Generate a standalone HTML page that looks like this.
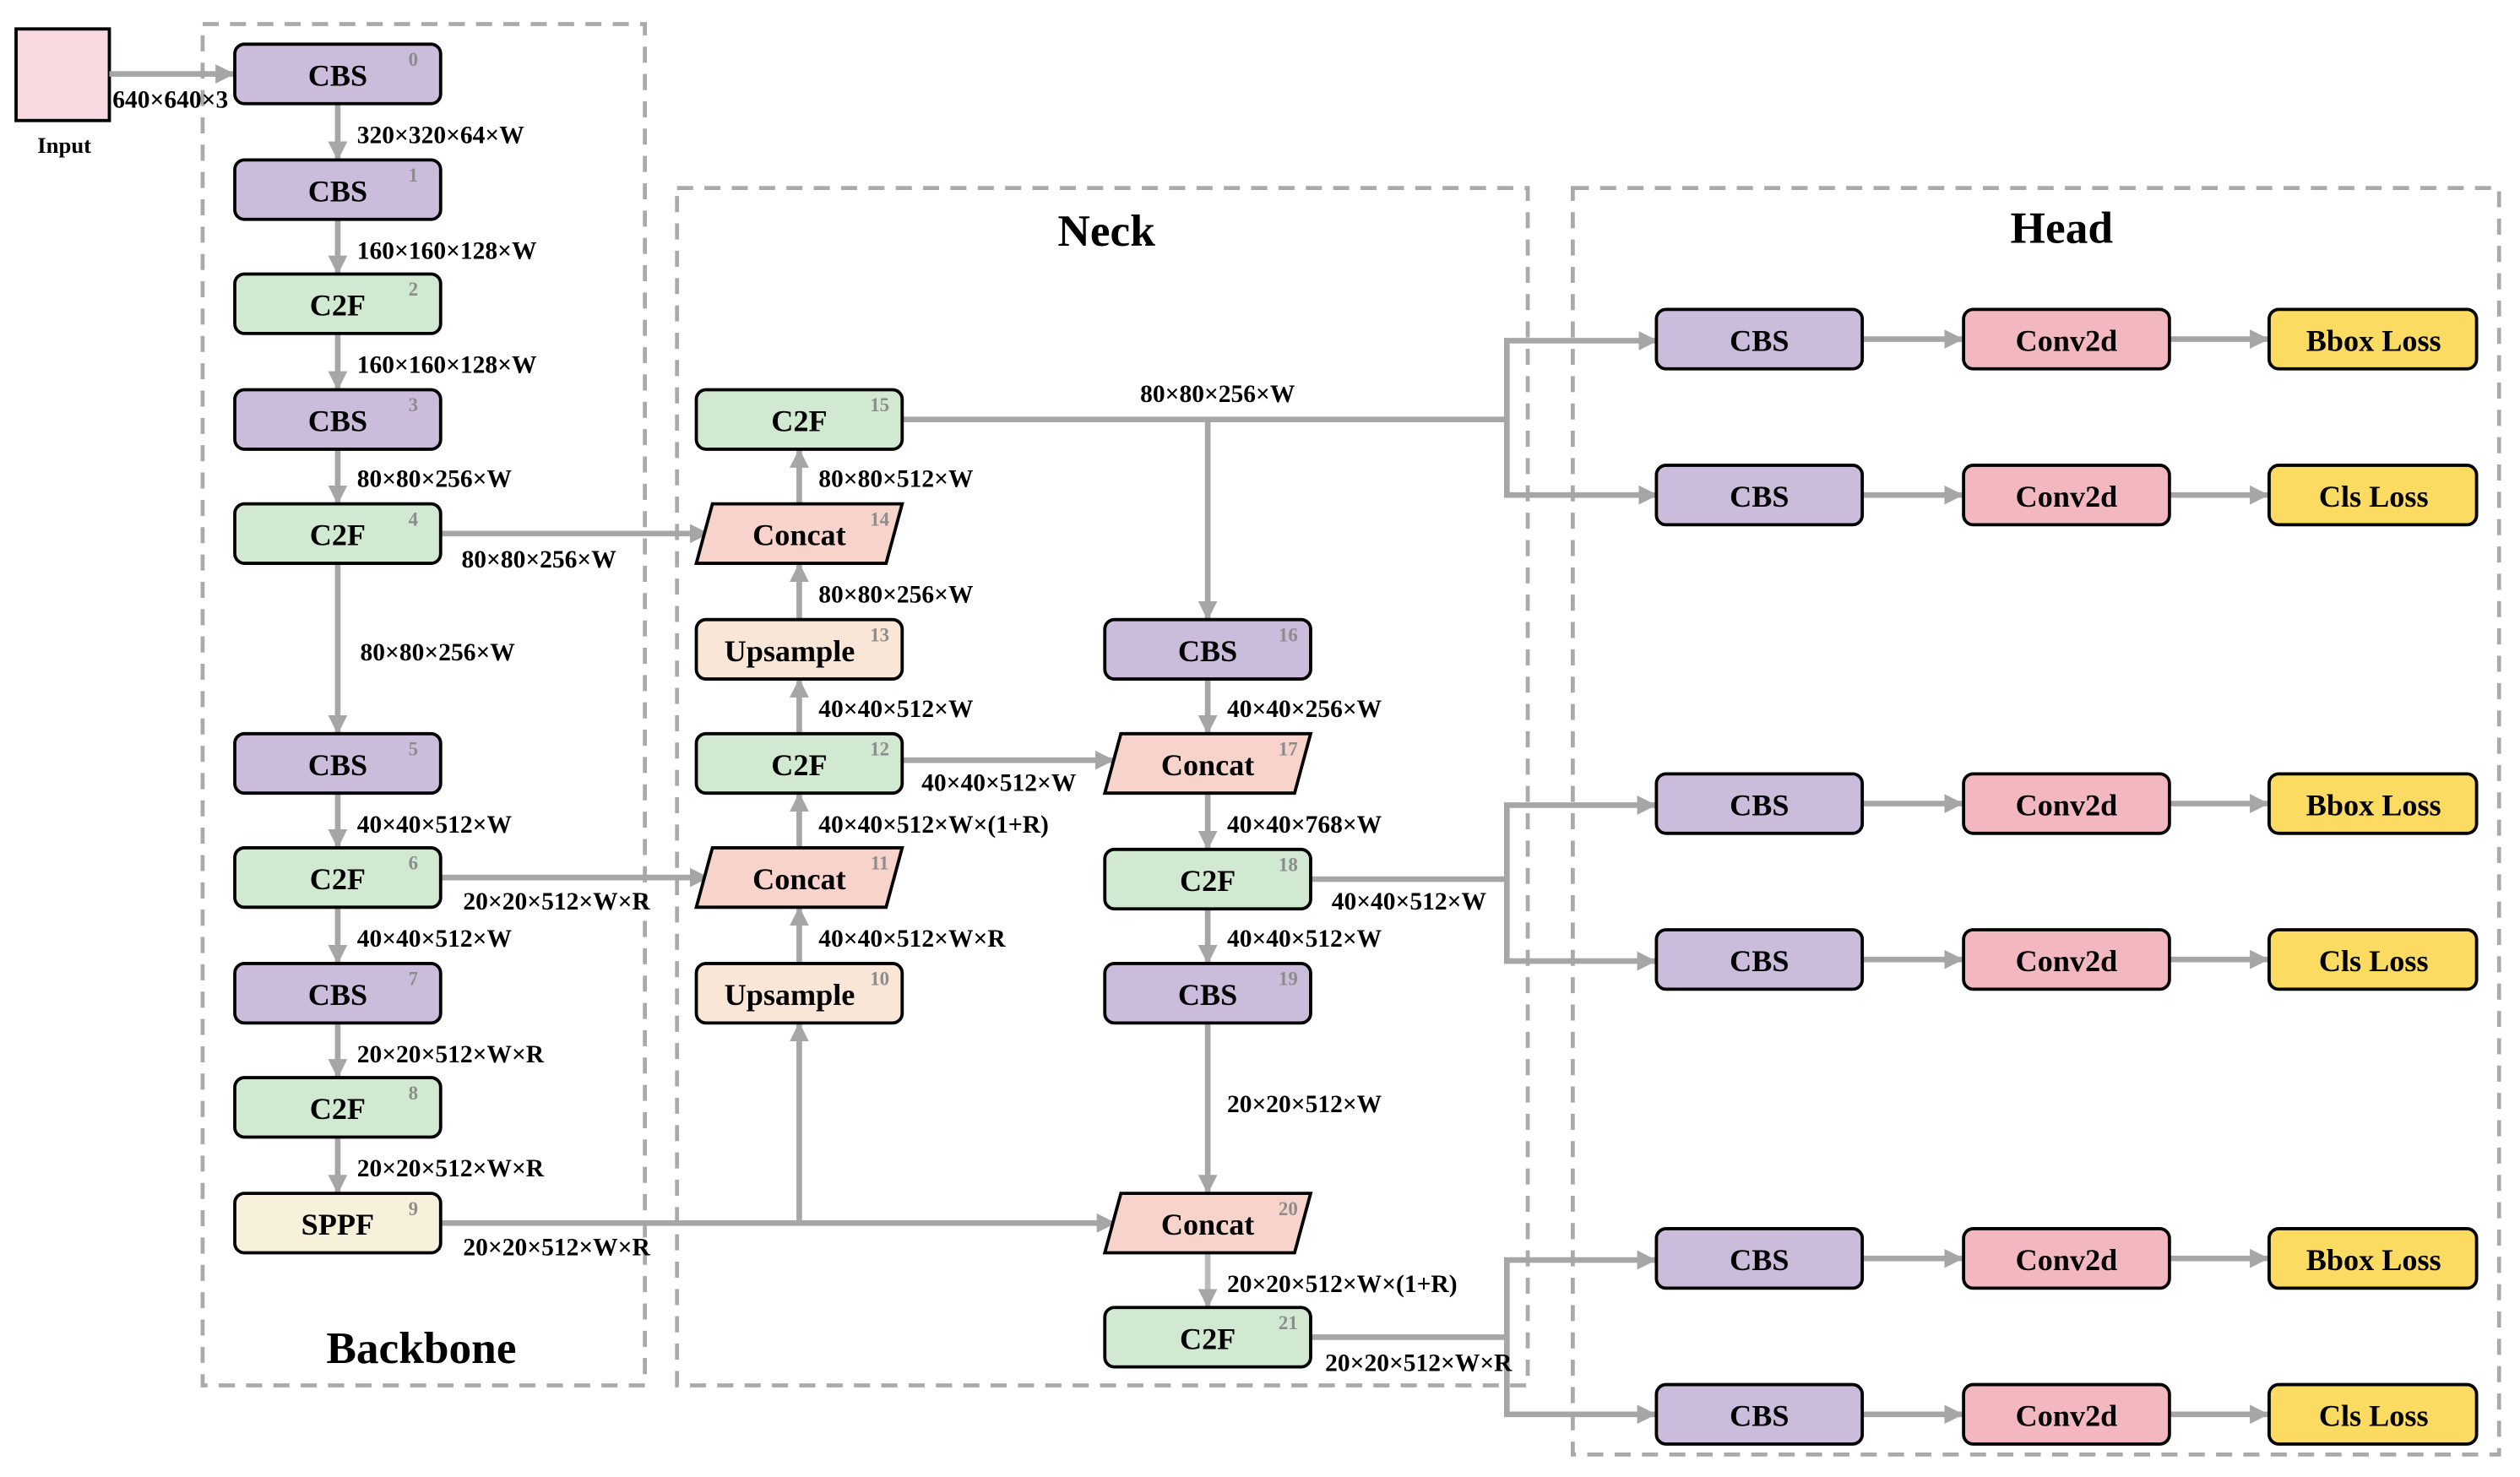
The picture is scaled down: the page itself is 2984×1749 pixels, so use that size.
<!DOCTYPE html>
<html><head><meta charset="utf-8"><style>
html,body{margin:0;padding:0;background:#fff}
svg{display:block}
text{font-family:"Liberation Serif",serif;font-weight:bold}
.n{font-size:19px;text-anchor:middle;dominant-baseline:central}
.i{font-size:12px;fill:#8c8c8c;text-anchor:middle}
.l{font-size:15.5px}
.a{stroke:#a6a6a6;stroke-width:3.5;fill:none}
.d{stroke:#aaa;stroke-width:2.5;fill:none;stroke-dasharray:10,7}
.b{stroke:#000;stroke-width:2}
</style></head><body>
<svg width="2984" height="1749" viewBox="0 0 1567 919" preserveAspectRatio="none" xmlns="http://www.w3.org/2000/svg">
<defs><marker id="m" markerUnits="userSpaceOnUse" markerWidth="12" markerHeight="12" refX="11" refY="6" orient="auto"><path d="M0,0 L12,6 L0,12 z" fill="#a6a6a6"/></marker></defs>

<rect class="d" x="126" y="15" width="275" height="847"/>
<rect class="d" x="421" y="117" width="529" height="745"/>
<rect class="d" x="978" y="117" width="576" height="788"/>
<text x="262" y="848" style="font-size:28px" text-anchor="middle">Backbone</text>
<text x="688" y="153" style="font-size:28px" text-anchor="middle">Neck</text>
<text x="1282" y="151" style="font-size:28px" text-anchor="middle">Head</text>

<rect class="b" x="10" y="18" width="58" height="57" fill="#f8d9e0"/>
<text x="40" y="95" style="font-size:14px" text-anchor="middle">Input</text>
<line class="a" x1="68" y1="46" x2="145" y2="46" marker-end="url(#m)"/>
<text class="l" x="70" y="67">640×640×3</text>

<g class="a">
<line x1="210" y1="65" x2="210" y2="99" marker-end="url(#m)"/>
<line x1="210" y1="137" x2="210" y2="170" marker-end="url(#m)"/>
<line x1="210" y1="208" x2="210" y2="242" marker-end="url(#m)"/>
<line x1="210" y1="280" x2="210" y2="313" marker-end="url(#m)"/>
<line x1="210" y1="351" x2="210" y2="456" marker-end="url(#m)"/>
<line x1="210" y1="494" x2="210" y2="527" marker-end="url(#m)"/>
<line x1="210" y1="565" x2="210" y2="599" marker-end="url(#m)"/>
<line x1="210" y1="637" x2="210" y2="670" marker-end="url(#m)"/>
<line x1="210" y1="708" x2="210" y2="742" marker-end="url(#m)"/>
<line x1="274" y1="332" x2="440" y2="332" marker-end="url(#m)"/>
<line x1="274" y1="546" x2="440" y2="546" marker-end="url(#m)"/>
<line x1="274" y1="761" x2="693" y2="761" marker-end="url(#m)"/>
<line x1="497" y1="761" x2="497" y2="637" marker-end="url(#m)"/>
<line x1="497" y1="599" x2="497" y2="565" marker-end="url(#m)"/>
<line x1="497" y1="527" x2="497" y2="494" marker-end="url(#m)"/>
<line x1="497" y1="456" x2="497" y2="423" marker-end="url(#m)"/>
<line x1="497" y1="385" x2="497" y2="351" marker-end="url(#m)"/>
<line x1="497" y1="313" x2="497" y2="280" marker-end="url(#m)"/>
<line x1="561" y1="473" x2="692" y2="473" marker-end="url(#m)"/>
<polyline points="561,261 937,261"/>
<line x1="751" y1="261" x2="751" y2="385" marker-end="url(#m)"/>
<line x1="751" y1="423" x2="751" y2="456" marker-end="url(#m)"/>
<line x1="751" y1="494" x2="751" y2="528" marker-end="url(#m)"/>
<line x1="751" y1="566" x2="751" y2="599" marker-end="url(#m)"/>
<line x1="751" y1="637" x2="751" y2="742" marker-end="url(#m)"/>
<line x1="751" y1="780" x2="751" y2="813" marker-end="url(#m)" style="stroke:#bbb"/>
<polyline points="815,547 937,547"/>
<polyline points="815,832 937,832"/>
<polyline points="1029,212 937,212 937,308 1029,308"/>
<polyline points="1029,501 937,501 937,598 1029,598"/>
<polyline points="1029,784 937,784 937,880 1029,880"/>
<line x1="1029" y1="212" x2="1030" y2="212" marker-end="url(#m)"/>
<line x1="1029" y1="308" x2="1030" y2="308" marker-end="url(#m)"/>
<line x1="1028" y1="501" x2="1029" y2="501" marker-end="url(#m)"/>
<line x1="1028" y1="598" x2="1029" y2="598" marker-end="url(#m)"/>
<line x1="1028" y1="784" x2="1029" y2="784" marker-end="url(#m)"/>
<line x1="1028" y1="880" x2="1029" y2="880" marker-end="url(#m)"/>
</g>
<g class="a">
<line x1="1158" y1="211" x2="1220" y2="211" marker-end="url(#m)"/>
<line x1="1349" y1="211" x2="1410" y2="211" marker-end="url(#m)"/>
<line x1="1158" y1="308" x2="1220" y2="308" marker-end="url(#m)"/>
<line x1="1349" y1="308" x2="1410" y2="308" marker-end="url(#m)"/>
<line x1="1158" y1="500" x2="1220" y2="500" marker-end="url(#m)"/>
<line x1="1349" y1="500" x2="1410" y2="500" marker-end="url(#m)"/>
<line x1="1158" y1="597" x2="1220" y2="597" marker-end="url(#m)"/>
<line x1="1349" y1="597" x2="1410" y2="597" marker-end="url(#m)"/>
<line x1="1158" y1="783" x2="1220" y2="783" marker-end="url(#m)"/>
<line x1="1349" y1="783" x2="1410" y2="783" marker-end="url(#m)"/>
<line x1="1158" y1="880" x2="1220" y2="880" marker-end="url(#m)"/>
<line x1="1349" y1="880" x2="1410" y2="880" marker-end="url(#m)"/>
</g>

<g class="b">
<rect x="146" y="27.5" width="128" height="37" rx="6" fill="#cbbcdc"/>
<rect x="146" y="99.5" width="128" height="37" rx="6" fill="#cbbcdc"/>
<rect x="146" y="170.5" width="128" height="37" rx="6" fill="#d1e8d1"/>
<rect x="146" y="242.5" width="128" height="37" rx="6" fill="#cbbcdc"/>
<rect x="146" y="313.5" width="128" height="37" rx="6" fill="#d1e8d1"/>
<rect x="146" y="456.5" width="128" height="37" rx="6" fill="#cbbcdc"/>
<rect x="146" y="527.5" width="128" height="37" rx="6" fill="#d1e8d1"/>
<rect x="146" y="599.5" width="128" height="37" rx="6" fill="#cbbcdc"/>
<rect x="146" y="670.5" width="128" height="37" rx="6" fill="#d1e8d1"/>
<rect x="146" y="742.5" width="128" height="37" rx="6" fill="#f7f1dc"/>
<rect x="433" y="242.5" width="128" height="37" rx="6" fill="#d1e8d1"/>
<polygon points="443,313.5 561,313.5 551,350.5 433,350.5" fill="#f8d3cb"/>
<rect x="433" y="385.5" width="128" height="37" rx="6" fill="#fae6d6"/>
<rect x="433" y="456.5" width="128" height="37" rx="6" fill="#d1e8d1"/>
<polygon points="443,527.5 561,527.5 551,564.5 433,564.5" fill="#f8d3cb"/>
<rect x="433" y="599.5" width="128" height="37" rx="6" fill="#fae6d6"/>
<rect x="687" y="385.5" width="128" height="37" rx="6" fill="#cbbcdc"/>
<polygon points="697,456.5 815,456.5 805,493.5 687,493.5" fill="#f8d3cb"/>
<rect x="687" y="528.5" width="128" height="37" rx="6" fill="#d1e8d1"/>
<rect x="687" y="599.5" width="128" height="37" rx="6" fill="#cbbcdc"/>
<polygon points="697,742.5 815,742.5 805,779.5 687,779.5" fill="#f8d3cb"/>
<rect x="687" y="813.5" width="128" height="37" rx="6" fill="#d1e8d1"/>
<rect x="1030" y="192.5" width="128" height="37" rx="6" fill="#cbbcdc"/>
<rect x="1221" y="192.5" width="128" height="37" rx="6" fill="#f3b8bf"/>
<rect x="1411" y="192.5" width="129" height="37" rx="6" fill="#fbdb62"/>
<rect x="1030" y="289.5" width="128" height="37" rx="6" fill="#cbbcdc"/>
<rect x="1221" y="289.5" width="128" height="37" rx="6" fill="#f3b8bf"/>
<rect x="1411" y="289.5" width="129" height="37" rx="6" fill="#fbdb62"/>
<rect x="1030" y="481.5" width="128" height="37" rx="6" fill="#cbbcdc"/>
<rect x="1221" y="481.5" width="128" height="37" rx="6" fill="#f3b8bf"/>
<rect x="1411" y="481.5" width="129" height="37" rx="6" fill="#fbdb62"/>
<rect x="1030" y="578.5" width="128" height="37" rx="6" fill="#cbbcdc"/>
<rect x="1221" y="578.5" width="128" height="37" rx="6" fill="#f3b8bf"/>
<rect x="1411" y="578.5" width="129" height="37" rx="6" fill="#fbdb62"/>
<rect x="1030" y="764.5" width="128" height="37" rx="6" fill="#cbbcdc"/>
<rect x="1221" y="764.5" width="128" height="37" rx="6" fill="#f3b8bf"/>
<rect x="1411" y="764.5" width="129" height="37" rx="6" fill="#fbdb62"/>
<rect x="1030" y="861.5" width="128" height="37" rx="6" fill="#cbbcdc"/>
<rect x="1221" y="861.5" width="128" height="37" rx="6" fill="#f3b8bf"/>
<rect x="1411" y="861.5" width="129" height="37" rx="6" fill="#fbdb62"/>
</g>

<g class="n">
<text x="210" y="47">CBS</text><text x="210" y="119">CBS</text><text x="210" y="190">C2F</text>
<text x="210" y="262">CBS</text><text x="210" y="333">C2F</text><text x="210" y="476">CBS</text>
<text x="210" y="547">C2F</text><text x="210" y="619">CBS</text><text x="210" y="690">C2F</text>
<text x="210" y="762">SPPF</text>
<text x="497" y="262">C2F</text><text x="497" y="333">Concat</text><text x="491" y="405">Upsample</text>
<text x="497" y="476">C2F</text><text x="497" y="547">Concat</text><text x="491" y="619">Upsample</text>
<text x="751" y="405">CBS</text><text x="751" y="476">Concat</text><text x="751" y="548">C2F</text>
<text x="751" y="619">CBS</text><text x="751" y="762">Concat</text><text x="751" y="833">C2F</text>
<text x="1094" y="212">CBS</text><text x="1285" y="212">Conv2d</text><text x="1476" y="212">Bbox Loss</text>
<text x="1094" y="309">CBS</text><text x="1285" y="309">Conv2d</text><text x="1476" y="309">Cls Loss</text>
<text x="1094" y="501">CBS</text><text x="1285" y="501">Conv2d</text><text x="1476" y="501">Bbox Loss</text>
<text x="1094" y="598">CBS</text><text x="1285" y="598">Conv2d</text><text x="1476" y="598">Cls Loss</text>
<text x="1094" y="784">CBS</text><text x="1285" y="784">Conv2d</text><text x="1476" y="784">Bbox Loss</text>
<text x="1094" y="881">CBS</text><text x="1285" y="881">Conv2d</text><text x="1476" y="881">Cls Loss</text>
</g>
<g class="i">
<text x="257" y="41">0</text><text x="257" y="113">1</text><text x="257" y="184">2</text>
<text x="257" y="256">3</text><text x="257" y="327">4</text><text x="257" y="470">5</text>
<text x="257" y="541">6</text><text x="257" y="613">7</text><text x="257" y="684">8</text><text x="257" y="756">9</text>
<text x="547" y="256">15</text><text x="547" y="327">14</text><text x="547" y="399">13</text>
<text x="547" y="470">12</text><text x="547" y="541">11</text><text x="547" y="613">10</text>
<text x="801" y="399">16</text><text x="801" y="470">17</text><text x="801" y="542">18</text>
<text x="801" y="613">19</text><text x="801" y="756">20</text><text x="801" y="827">21</text>
</g>

<g class="l">
<text x="222" y="89">320×320×64×W</text>
<text x="222" y="161">160×160×128×W</text>
<text x="222" y="232">160×160×128×W</text>
<text x="222" y="303">80×80×256×W</text>
<text x="224" y="411">80×80×256×W</text>
<text x="222" y="518">40×40×512×W</text>
<text x="222" y="589">40×40×512×W</text>
<text x="222" y="661">20×20×512×W×R</text>
<text x="222" y="732">20×20×512×W×R</text>
<text x="287" y="353">80×80×256×W</text>
<text x="288" y="566">20×20×512×W×R</text>
<text x="288" y="781">20×20×512×W×R</text>
<text x="509" y="303">80×80×512×W</text>
<text x="509" y="375">80×80×256×W</text>
<text x="509" y="446">40×40×512×W</text>
<text x="509" y="518">40×40×512×W×(1+R)</text>
<text x="509" y="589">40×40×512×W×R</text>
<text x="573" y="492">40×40×512×W</text>
<text x="709" y="250">80×80×256×W</text>
<text x="763" y="446">40×40×256×W</text>
<text x="763" y="518">40×40×768×W</text>
<text x="763" y="589">40×40×512×W</text>
<text x="763" y="692">20×20×512×W</text>
<text x="763" y="804">20×20×512×W×(1+R)</text>
<text x="828" y="566">40×40×512×W</text>
<text x="824" y="853">20×20×512×W×R</text>
</g>
</svg>
</body></html>
